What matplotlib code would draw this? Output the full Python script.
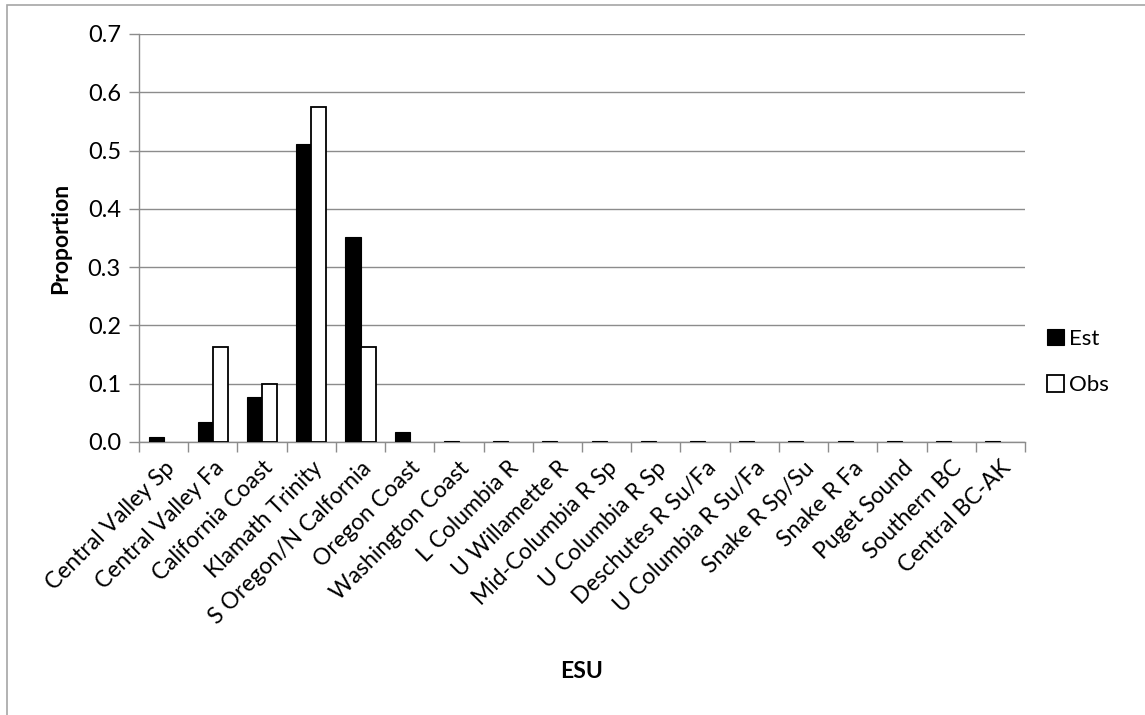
import matplotlib
matplotlib.use("Agg")
import matplotlib.pyplot as plt
import numpy as np
from matplotlib.patches import Rectangle

plt.rcParams['font.family'] = ['Lato', 'DejaVu Sans']

categories = ["Central Valley Sp", "Central Valley Fa", "California Coast",
              "Klamath Trinity", "S Oregon/N Calfornia", "Oregon Coast",
              "Washington Coast", "L Columbia R", "U Willamette R",
              "Mid-Columbia R Sp", "U Columbia R Sp", "Deschutes R Su/Fa",
              "U Columbia R Su/Fa", "Snake R Sp/Su", "Snake R Fa",
              "Puget Sound", "Southern BC", "Central BC-AK"]
est = [0.008, 0.035, 0.077, 0.512, 0.352, 0.018, 0.001, 0.001, 0.001,
       0.001, 0.001, 0.001, 0.001, 0.001, 0.001, 0.001, 0.001, 0.001]
obs = [0.0, 0.163, 0.100, 0.575, 0.163, 0.0, 0.0, 0.0, 0.0,
       0.0, 0.0, 0.0, 0.0, 0.0, 0.0, 0.0, 0.0, 0.0]
yticks = [0.0, 0.1, 0.2, 0.3, 0.4, 0.5, 0.6, 0.7]

W, H = 1145, 715
fig = plt.figure(figsize=(W / 100, H / 100), dpi=100)
ax = fig.add_axes([139 / W, 1 - 442 / H, (1025 - 139) / W, (442 - 34) / H])

grid_c = "#8c8c8c"
x = np.arange(len(categories))
bw = 0.305
ax.bar(x - bw / 2, est, width=bw, color="black", edgecolor="black",
       linewidth=0.8, label="Est", zorder=3)
obs_edges = ["black" if v > 0 else "none" for v in obs]
ax.bar(x + bw / 2, obs, width=bw, color="white", edgecolor=obs_edges,
       linewidth=1.3, label="Obs", zorder=3)

ax.set_xlim(-0.5, len(categories) - 0.5)
ax.set_ylim(0, 0.7)
ax.set_yticks(yticks)
ax.set_yticklabels([f"{v:.1f}" for v in yticks], fontsize=17)
ax.yaxis.grid(True, color=grid_c, linewidth=1.0, zorder=0)
ax.set_axisbelow(True)

ax.set_xticks(np.arange(len(categories) + 1) - 0.5)
ax.set_xticklabels([])
ax.set_xticks(x, minor=True)
ax.set_xticklabels(categories, minor=True, rotation=45, ha="right",
                   rotation_mode="anchor", fontsize=16.5)
ax.tick_params(axis="x", which="minor", length=0, pad=11)
ax.tick_params(axis="x", which="major", length=7, color=grid_c, width=1.0,
               direction="out")
ax.tick_params(axis="y", length=7, color=grid_c, width=1.0, direction="out",
               pad=6)

for s in ["top", "right"]:
    ax.spines[s].set_visible(False)
for s in ["left", "bottom"]:
    ax.spines[s].set_color(grid_c)
    ax.spines[s].set_linewidth(1.0)

fig.text(61 / W, 1 - 238 / H, "Proportion", rotation=90, ha="center",
         va="center", fontsize=16.5, fontweight="bold")
fig.text(582 / W, 1 - 671 / H, "ESU", ha="center", va="center",
         fontsize=16.5, fontweight="bold")

leg = ax.legend(loc="center left", bbox_to_anchor=(1036 / W, 1 - 362 / H),
                bbox_transform=fig.transFigure, frameon=False, fontsize=16,
                handlelength=0.75, handleheight=0.75, handletextpad=0.25,
                labelspacing=1.2, borderpad=0)
leg.legend_handles[1].set_edgecolor("black")

fig.add_artist(Rectangle((7 / W, -0.05), 1.2, 1 - 5 / H + 0.05,
                         transform=fig.transFigure, fill=False,
                         edgecolor="#a6a6a6", linewidth=1.2))

fig.savefig("out.png", dpi=100)
